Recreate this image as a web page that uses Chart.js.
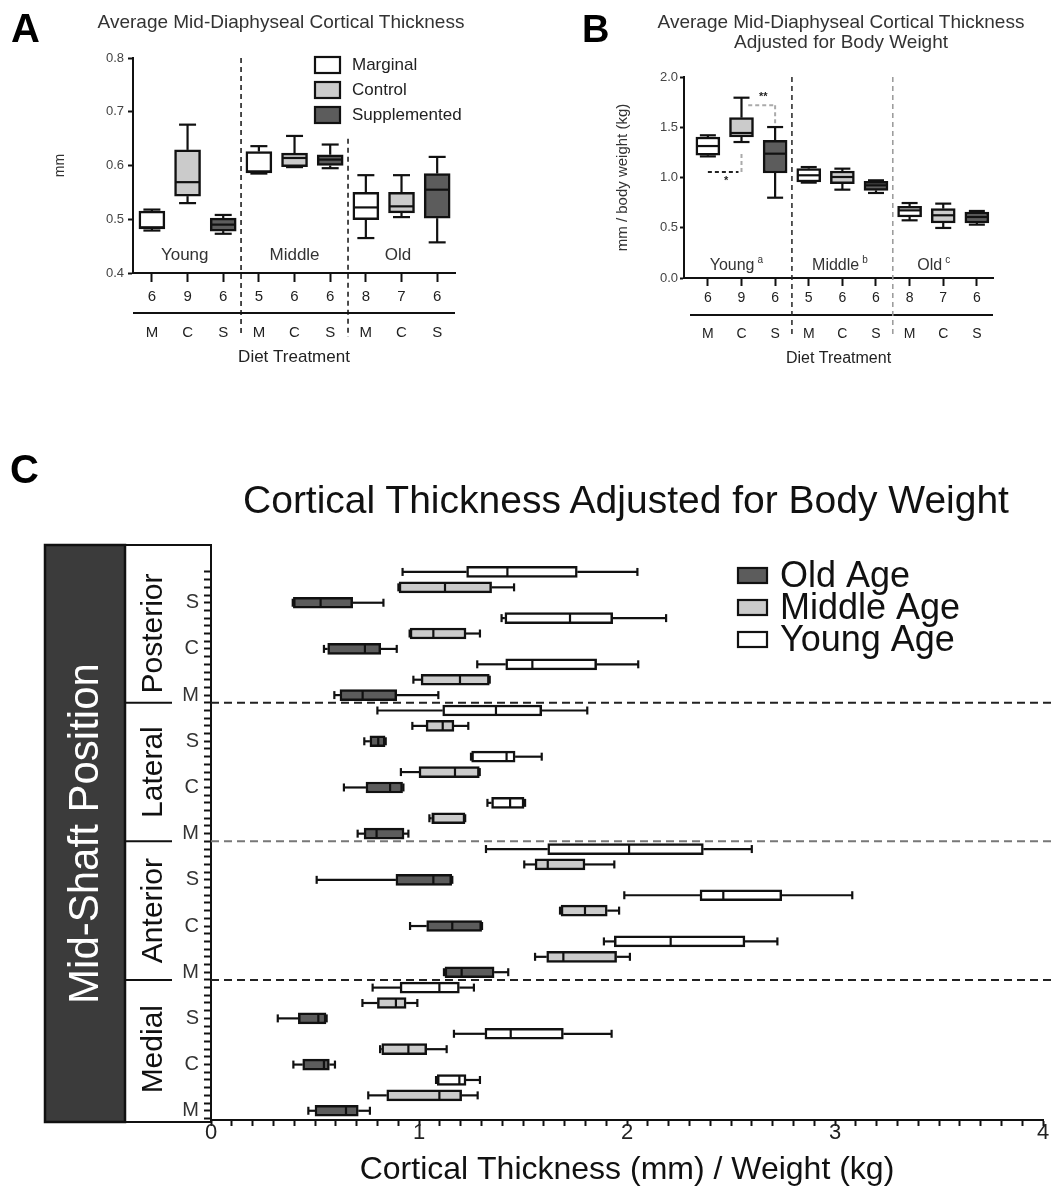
<!DOCTYPE html>
<html>
<head>
<meta charset="utf-8">
<script src="https://cdn.jsdelivr.net/npm/chart.js@4.4.1/dist/chart.umd.min.js"></script>
<style>
  body { margin: 0; background: #fff; font-family: 'Liberation Sans', Arial, sans-serif; color: #222; }
  #wrap { position: relative; width: 1054px; height: 1189px; overflow: hidden; }
  canvas { position: absolute; }
  .txt { position: absolute; white-space: nowrap; }
  .letter { font-weight: bold; font-size: 40px; line-height: 40px; color: #000; }
  .ttl { font-size: 19px; line-height: 20px; text-align: center; color: #333; }
</style>
</head>
<body>
<div id="wrap">
  <canvas id="chartA" width="560" height="380" style="left:0;top:0"></canvas>
  <canvas id="chartB" width="494" height="380" style="left:560px;top:0"></canvas>
  <canvas id="chartC" width="1054" height="749" style="left:0;top:440px"></canvas>

  <div class="txt letter" style="left:11px;top:8px">A</div>
  <div class="txt ttl" style="left:0;width:562px;top:12px">Average Mid-Diaphyseal Cortical Thickness</div>

  <div class="txt letter" style="left:582px;top:9px;font-size:38px">B</div>
  <div class="txt ttl" style="left:641px;width:400px;top:12px">Average Mid-Diaphyseal Cortical Thickness<br>Adjusted for Body Weight</div>

  <div class="txt letter" style="left:10px;top:449px">C</div>
  <div class="txt" style="left:226px;width:800px;top:480px;font-size:39px;line-height:40px;text-align:center;color:#111">Cortical Thickness Adjusted for Body Weight</div>
</div>

<script>
const FONT = "'Liberation Sans', Arial, sans-serif";
Chart.defaults.font.family = FONT;
Chart.defaults.color = '#222';

const INK = '#111';
const FILL = { M: '#ffffff', C: '#cbcbcb', S: '#5c5c5c' };
const AGE_FILL = { 'Young Age': '#ffffff', 'Middle Age': '#cbcbcb', 'Old Age': '#5c5c5c' };

// ── Panel A: mid-diaphyseal cortical thickness (mm) ────────────────────────
const A_GROUPS      = ['Young', 'Middle', 'Old'];
const A_GROUP_POS   = [0.92, 4.0, 6.9];
const A_GROUP_Y     = 0.432;
const A_DIETS       = ['M', 'C', 'S', 'M', 'C', 'S', 'M', 'C', 'S'];
const A_COUNTS      = ['6', '9', '6', '5', '6', '6', '8', '7', '6'];
const A_MIN         = [0.479, 0.530, 0.473, 0.585, 0.597, 0.595, 0.465, 0.504, 0.457];
const A_Q1          = [0.482, 0.543, 0.478, 0.586, 0.598, 0.600, 0.499, 0.512, 0.502];
const A_MED         = [0.485, 0.569, 0.490, 0.589, 0.614, 0.611, 0.522, 0.524, 0.555];
const A_Q3          = [0.515, 0.629, 0.502, 0.626, 0.623, 0.620, 0.550, 0.550, 0.585];
const A_MAX         = [0.518, 0.676, 0.508, 0.636, 0.655, 0.639, 0.582, 0.582, 0.616];
const A_DIVIDERS    = [2.5, 5.5];
const A_DIVIDER_TOP = [0.8, 0.65];
const A_LEGEND      = ['Marginal', 'Control', 'Supplemented'];
const A_LEGEND_KEYS = ['M', 'C', 'S'];

// ── Panel B: adjusted for body weight (mm / kg) ────────────────────────────
const B_GROUPS    = ['Young', 'Middle', 'Old'];
const B_GROUP_SUP = ['a', 'b', 'c'];
const B_GROUP_POS = [0.72, 3.8, 6.6];
const B_GROUP_Y   = 0.126;
const B_COUNTS    = ['6', '9', '6', '5', '6', '6', '8', '7', '6'];
const B_MIN       = [1.210, 1.353, 0.799, 0.949, 0.879, 0.846, 0.574, 0.498, 0.531];
const B_Q1        = [1.221, 1.403, 1.045, 0.955, 0.939, 0.872, 0.607, 0.547, 0.547];
const B_MED       = [1.313, 1.443, 1.237, 1.022, 1.005, 0.922, 0.673, 0.624, 0.607];
const B_Q3        = [1.403, 1.595, 1.370, 1.088, 1.065, 0.962, 0.713, 0.690, 0.657];
const B_MAX       = [1.420, 1.794, 1.502, 1.104, 1.088, 0.972, 0.746, 0.740, 0.667];
const B_DIVIDER_COLORS = ['#222', '#999'];
// significance brackets, in data units: [x0, x1, level, end level]
const B_SIG_LOW   = [0, 1, 1.055, 1.254];
const B_SIG_HIGH  = [1.2, 2, 1.718, 1.529];
const B_SIG_MARKS = [['*', 0.54, 0.97], ['**', 1.65, 1.80]];

// ── Panel C: by mid-shaft position (rows top→bottom) ───────────────────────
const C_POSITIONS = ['Posterior', 'Lateral', 'Anterior', 'Medial'];
const C_DIETS     = ['S', 'C', 'M'];
const C_AGES      = ['Young Age', 'Middle Age', 'Old Age'];
const C_LEGEND    = ['Old Age', 'Middle Age', 'Young Age'];
const C_BREAKS    = [8.5, 17.5, 26.5];
const C_BREAK_COLORS = ['#222', '#777', '#222'];
const C_X_LABELS  = ['0', '1', '2', '3', '4'];
const C_MIN = [0.921, 0.901, 0.393, 1.397, 0.955, 0.543, 1.280, 0.973, 0.593,
               0.800, 0.968, 0.737, 1.250, 0.913, 0.639, 1.329, 1.050, 0.705,
               1.322, 1.506, 0.508, 1.987, 1.678, 0.957, 1.889, 1.558, 1.120,
               0.777, 0.728, 0.321, 1.168, 0.813, 0.396, 1.082, 0.756, 0.468];
const C_Q1  = [1.229, 0.904, 0.396, 1.413, 0.957, 0.561, 1.417, 1.010, 0.620,
               1.114, 1.034, 0.764, 1.253, 1.000, 0.745, 1.349, 1.061, 0.736,
               1.619, 1.558, 0.889, 2.351, 1.683, 1.037, 1.939, 1.614, 1.125,
               0.909, 0.800, 0.420, 1.317, 0.821, 0.441, 1.088, 0.845, 0.500];
const C_MED = [1.425, 1.125, 0.527, 1.726, 1.069, 0.740, 1.545, 1.197, 0.729,
               1.370, 1.114, 0.804, 1.421, 1.173, 0.861, 1.438, 1.069, 0.796,
               2.010, 1.619, 1.069, 2.463, 1.798, 1.160, 2.210, 1.694, 1.205,
               1.098, 0.889, 0.516, 1.441, 0.949, 0.543, 1.194, 1.098, 0.649];
const C_Q3  = [1.761, 1.349, 0.681, 1.931, 1.226, 0.816, 1.854, 1.338, 0.893,
               1.590, 1.168, 0.837, 1.462, 1.290, 0.921, 1.505, 1.221, 0.928,
               2.367, 1.798, 1.157, 2.744, 1.905, 1.301, 2.567, 1.950, 1.361,
               1.194, 0.938, 0.553, 1.694, 1.037, 0.569, 1.226, 1.205, 0.708];
const C_MAX = [2.050, 1.457, 0.829, 2.188, 1.293, 0.893, 2.054, 1.340, 1.093,
               1.809, 1.237, 0.840, 1.590, 1.292, 0.925, 1.510, 1.222, 0.949,
               2.600, 1.939, 1.160, 3.083, 1.962, 1.303, 2.723, 2.014, 1.429,
               1.264, 0.992, 0.556, 1.926, 1.133, 0.596, 1.293, 1.282, 0.764];

// ── Helpers ────────────────────────────────────────────────────────────────
function line(ctx, x0, y0, x1, y1) {
  ctx.beginPath(); ctx.moveTo(x0, y0); ctx.lineTo(x1, y1); ctx.stroke();
}
function axisGrid(len) {
  return { drawOnChartArea: false, offset: false, tickLength: len, tickWidth: 2, tickColor: INK };
}
const AXIS_BORDER = { color: INK, width: 2 };

// whiskers (under the boxes) and medians (over them), from dataset.stats
function drawBoxParts(chart, medianPass) {
  const ctx = chart.ctx;
  const horiz = chart.options.indexAxis === 'y';
  const vScale = horiz ? chart.scales.x : chart.scales.y;
  chart.data.datasets.forEach((ds, di) => {
    const st = ds.stats;
    if (!st) return;
    const meta = chart.getDatasetMeta(di);
    ctx.save();
    ctx.strokeStyle = INK;
    ctx.lineWidth = st.lineWidth;
    const seg = (c0, v0, c1, v1) => horiz ? line(ctx, v0, c0, v1, c1) : line(ctx, c0, v0, c1, v1);
    meta.data.forEach((el, i) => {
      const c = horiz ? el.y : el.x;
      const v = k => vScale.getPixelForValue(st[k][i]);
      if (medianPass) {
        const half = (horiz ? el.height : el.width) / 2 - 1;
        seg(c - half, v('med'), c + half, v('med'));
      } else {
        const cap = st.cap / 2;
        seg(c, v('q3'), c, v('max'));
        seg(c, v('q1'), c, v('min'));
        seg(c - cap, v('max'), c + cap, v('max'));
        seg(c - cap, v('min'), c + cap, v('min'));
      }
    });
    ctx.restore();
  });
}
const boxWhiskers = {
  id: 'boxWhiskers',
  beforeDatasetsDraw(chart) { drawBoxParts(chart, false); },
  afterDatasetsDraw(chart) { drawBoxParts(chart, true); },
};

// ── Panel A ────────────────────────────────────────────────────────────────
const panelA = {
  id: 'panelA',
  afterDraw(chart) {
    const { ctx, chartArea: ca, scales: { x, y } } = chart;
    ctx.save();
    ctx.strokeStyle = INK;
    ctx.lineWidth = 2;
    line(ctx, ca.left, ca.bottom + 40, ca.right, ca.bottom + 40);
    ctx.lineWidth = 1.5;
    ctx.setLineDash([5, 4]);
    A_DIVIDERS.forEach((d, k) => {
      const px = x.getPixelForValue(d);
      line(ctx, px, y.getPixelForValue(A_DIVIDER_TOP[k]), px, ca.bottom + 64);
    });
    ctx.setLineDash([]);
    ctx.fillStyle = '#333';
    ctx.font = `17px ${FONT}`;
    ctx.textAlign = 'center';
    ctx.textBaseline = 'middle';
    A_GROUPS.forEach((g, k) => ctx.fillText(g, x.getPixelForValue(A_GROUP_POS[k]), y.getPixelForValue(A_GROUP_Y)));
    ctx.textAlign = 'left';
    A_LEGEND.forEach((name, k) => {
      const bx = ca.left + 182, by = ca.top - 1 + k * 25;
      ctx.fillStyle = FILL[A_LEGEND_KEYS[k]];
      ctx.fillRect(bx, by, 25, 16);
      ctx.lineWidth = 2.2;
      ctx.strokeRect(bx, by, 25, 16);
      ctx.fillStyle = '#222';
      ctx.fillText(name, bx + 37, by + 8);
    });
    ctx.restore();
  },
};

new Chart(document.getElementById('chartA'), {
  type: 'bar',
  data: {
    datasets: [{
      data: A_Q1.map((q, i) => ({ x: i, y: [q, A_Q3[i]] })),
      backgroundColor: A_DIETS.map(d => FILL[d]),
      borderColor: INK, borderWidth: 2.5, borderSkipped: false, barThickness: 26,
      stats: { min: A_MIN, q1: A_Q1, med: A_MED, q3: A_Q3, max: A_MAX, cap: 17, lineWidth: 2.2 },
    }],
  },
  options: {
    responsive: false, animation: false, events: [],
    layout: { padding: { top: 58, right: 105, left: 0, bottom: 0 } },
    plugins: { legend: { display: false }, tooltip: { enabled: false } },
    scales: {
      x: {
        type: 'linear', min: -0.53, max: 8.5, offset: false,
        afterBuildTicks: s => { s.ticks = A_DIETS.map((d, i) => ({ value: i })); },
        afterFit: s => { s.height = 107; },
        grid: axisGrid(9), border: AXIS_BORDER,
        ticks: {
          autoSkip: false, maxRotation: 0, padding: 6, color: '#222',
          font: { size: 15, lineHeight: 1.2 },
          callback: v => [A_COUNTS[v], '', A_DIETS[v]],
        },
        title: { display: true, text: 'Diet Treatment', color: '#222', font: { size: 17 }, padding: { top: 0, bottom: 12 } },
      },
      y: {
        min: 0.4, max: 0.8,
        afterFit: s => { s.width = 133; },
        grid: axisGrid(5), border: AXIS_BORDER,
        ticks: { stepSize: 0.1, padding: 4, color: '#444', font: { size: 13 }, callback: v => v.toFixed(1) },
        title: { display: true, text: 'mm', color: '#333', font: { size: 14 }, padding: { top: 52, bottom: 0 } },
      },
    },
  },
  plugins: [boxWhiskers, panelA],
});

// ── Panel B ────────────────────────────────────────────────────────────────
const panelB = {
  id: 'panelB',
  afterDraw(chart) {
    const { ctx, chartArea: ca, scales: { x, y } } = chart;
    const px = v => x.getPixelForValue(v), py = v => y.getPixelForValue(v);
    ctx.save();
    ctx.strokeStyle = INK;
    ctx.lineWidth = 2;
    line(ctx, ca.left + 6, ca.bottom + 37, ca.right, ca.bottom + 37);
    ctx.lineWidth = 1.5;
    ctx.setLineDash([5, 4]);
    [2.5, 5.5].forEach((d, k) => {
      ctx.strokeStyle = B_DIVIDER_COLORS[k];
      line(ctx, px(d), ca.top, px(d), ca.bottom + 59);
    });
    // significance brackets
    ctx.lineWidth = 2;
    ctx.setLineDash([4, 3]);
    ctx.strokeStyle = '#222';
    line(ctx, px(B_SIG_LOW[0]), py(B_SIG_LOW[2]), px(B_SIG_LOW[1]) - 3, py(B_SIG_LOW[2]));
    ctx.strokeStyle = '#aaa';
    line(ctx, px(B_SIG_LOW[1]), py(B_SIG_LOW[2]), px(B_SIG_LOW[1]), py(B_SIG_LOW[3]));
    line(ctx, px(B_SIG_HIGH[0]), py(B_SIG_HIGH[2]), px(B_SIG_HIGH[1]), py(B_SIG_HIGH[2]));
    line(ctx, px(B_SIG_HIGH[1]), py(B_SIG_HIGH[2]), px(B_SIG_HIGH[1]), py(B_SIG_HIGH[3]));
    ctx.setLineDash([]);
    ctx.fillStyle = '#222';
    ctx.font = `bold 11px ${FONT}`;
    ctx.textAlign = 'center';
    ctx.textBaseline = 'middle';
    B_SIG_MARKS.forEach(([m, mx, my]) => ctx.fillText(m, px(mx), py(my)));
    // group labels with superscripts
    B_GROUPS.forEach((g, k) => {
      const gx = px(B_GROUP_POS[k]), gy = py(B_GROUP_Y);
      ctx.font = `16px ${FONT}`;
      ctx.textAlign = 'center';
      ctx.fillStyle = '#333';
      ctx.fillText(g, gx, gy);
      const w = ctx.measureText(g).width;
      ctx.font = `10px ${FONT}`;
      ctx.textAlign = 'left';
      ctx.fillText(B_GROUP_SUP[k], gx + w / 2 + 3, gy - 5);
    });
    ctx.restore();
  },
};

new Chart(document.getElementById('chartB'), {
  type: 'bar',
  data: {
    datasets: [{
      data: B_Q1.map((q, i) => ({ x: i, y: [q, B_Q3[i]] })),
      backgroundColor: A_DIETS.map(d => FILL[d]),
      borderColor: INK, borderWidth: 2.5, borderSkipped: false, barThickness: 24,
      stats: { min: B_MIN, q1: B_Q1, med: B_MED, q3: B_Q3, max: B_MAX, cap: 16, lineWidth: 2.2 },
    }],
  },
  options: {
    responsive: false, animation: false, events: [],
    layout: { padding: { top: 77, right: 61, left: 0, bottom: 0 } },
    plugins: { legend: { display: false }, tooltip: { enabled: false } },
    scales: {
      x: {
        type: 'linear', min: -0.71, max: 8.48, offset: false,
        afterBuildTicks: s => { s.ticks = A_DIETS.map((d, i) => ({ value: i })); },
        afterFit: s => { s.height = 102; },
        grid: axisGrid(8), border: AXIS_BORDER,
        ticks: {
          autoSkip: false, maxRotation: 0, padding: 3, color: '#222',
          font: { size: 14, lineHeight: 18 / 14 },
          callback: v => [B_COUNTS[v], '', A_DIETS[v]],
        },
        title: { display: true, text: 'Diet Treatment', color: '#222', font: { size: 16 }, padding: { top: 0, bottom: 12 } },
      },
      y: {
        min: 0, max: 2,
        afterFit: s => { s.width = 124; },
        grid: axisGrid(4), border: AXIS_BORDER,
        ticks: { stepSize: 0.5, padding: 2, color: '#444', font: { size: 13 }, callback: v => v.toFixed(1) },
        title: { display: true, text: 'mm / body weight (kg)', color: '#333', font: { size: 15 }, padding: { top: 54, bottom: 0 } },
      },
    },
  },
  plugins: [boxWhiskers, panelB],
});

// ── Panel C ────────────────────────────────────────────────────────────────
const rowAge = C_MIN.map((v, i) => C_AGES[i % 3]);

const panelC = {
  id: 'panelC',
  afterDraw(chart) {
    const { ctx, chartArea: ca, scales: { y } } = chart;
    const top = ca.top, bottom = ca.bottom + 2;
    ctx.save();
    // row-group label block
    ctx.fillStyle = '#3b3b3b';
    ctx.fillRect(45, top, 80, bottom - top);
    ctx.strokeStyle = INK;
    ctx.lineWidth = 2.5;
    ctx.strokeRect(45, top, 80, bottom - top);
    ctx.lineWidth = 2;
    line(ctx, 125, top, ca.left, top);
    line(ctx, 125, bottom, ca.left, bottom);
    C_BREAKS.forEach(b => line(ctx, 125, y.getPixelForValue(b), 172, y.getPixelForValue(b)));
    ctx.textAlign = 'center';
    ctx.textBaseline = 'middle';
    ctx.save();
    ctx.translate(86, (top + bottom) / 2);
    ctx.rotate(-Math.PI / 2);
    ctx.fillStyle = '#fff';
    ctx.font = `42px ${FONT}`;
    ctx.fillText('Mid-Shaft Position', 0, 0);
    ctx.restore();
    C_POSITIONS.forEach((p, k) => {
      ctx.save();
      ctx.translate(154, y.getPixelForValue(k * 9 + 4));
      ctx.rotate(-Math.PI / 2);
      ctx.fillStyle = '#111';
      ctx.font = `30px ${FONT}`;
      ctx.fillText(p, 0, 0);
      ctx.restore();
    });
    // dashed section breaks across the plot
    ctx.lineWidth = 2;
    ctx.setLineDash([8, 5]);
    C_BREAKS.forEach((b, k) => {
      ctx.strokeStyle = C_BREAK_COLORS[k];
      line(ctx, ca.left, y.getPixelForValue(b), chart.width, y.getPixelForValue(b));
    });
    ctx.setLineDash([]);
    // legend
    ctx.textAlign = 'left';
    ctx.font = `36px ${FONT}`;
    C_LEGEND.forEach((name, k) => {
      const bx = 738, by = ca.top + 23 + k * 32;
      ctx.fillStyle = AGE_FILL[name];
      ctx.fillRect(bx, by, 29, 15);
      ctx.strokeStyle = INK;
      ctx.lineWidth = 2.2;
      ctx.strokeRect(bx, by, 29, 15);
      ctx.fillStyle = '#111';
      ctx.fillText(name, bx + 42, by + 9);
    });
    ctx.restore();
  },
};

new Chart(document.getElementById('chartC'), {
  type: 'bar',
  data: {
    datasets: [{
      data: C_Q1.map((q, i) => ({ y: i, x: [q, C_Q3[i]] })),
      backgroundColor: rowAge.map(a => AGE_FILL[a]),
      borderColor: INK, borderWidth: 2.5, borderSkipped: false, barThickness: 11,
      stats: { min: C_MIN, q1: C_Q1, med: C_MED, q3: C_Q3, max: C_MAX, cap: 8, lineWidth: 2.2 },
    }],
  },
  options: {
    indexAxis: 'y',
    responsive: false, animation: false, events: [],
    layout: { padding: { top: 105, right: 11, left: 0, bottom: 0 } },
    plugins: { legend: { display: false }, tooltip: { enabled: false } },
    scales: {
      x: {
        type: 'linear', min: 0, max: 4,
        afterBuildTicks: s => { s.ticks = []; for (let k = 0; k <= 40; k++) s.ticks.push({ value: k / 10 }); },
        afterFit: s => { s.height = 69; },
        grid: axisGrid(6), border: AXIS_BORDER,
        ticks: {
          autoSkip: false, maxRotation: 0, padding: -4, color: '#222',
          font: { size: 22, lineHeight: 1 },
          callback: v => Math.abs(v - Math.round(v)) < 1e-6 ? C_X_LABELS[Math.round(v)] : '',
        },
        title: { display: true, text: 'Cortical Thickness (mm) / Weight (kg)', color: '#111', font: { size: 32, lineHeight: 1.2 }, padding: { top: 0, bottom: 0 } },
      },
      y: {
        type: 'linear', reverse: true, min: -1.75, max: 35.6, offset: false,
        // a tick on every row and between rows
        afterBuildTicks: s => { s.ticks = []; for (let k = 0; k <= 71; k++) s.ticks.push({ value: k / 2 }); },
        afterFit: s => { s.width = 211; },
        grid: axisGrid(7), border: AXIS_BORDER,
        ticks: {
          autoSkip: false, padding: 5, color: '#333', font: { size: 20 },
          callback: v => (Number.isInteger(v) && v % 3 === 2 ? C_DIETS[Math.floor((v % 9) / 3)] : ''),
        },
      },
    },
  },
  plugins: [boxWhiskers, panelC],
});
</script>
</body>
</html>
